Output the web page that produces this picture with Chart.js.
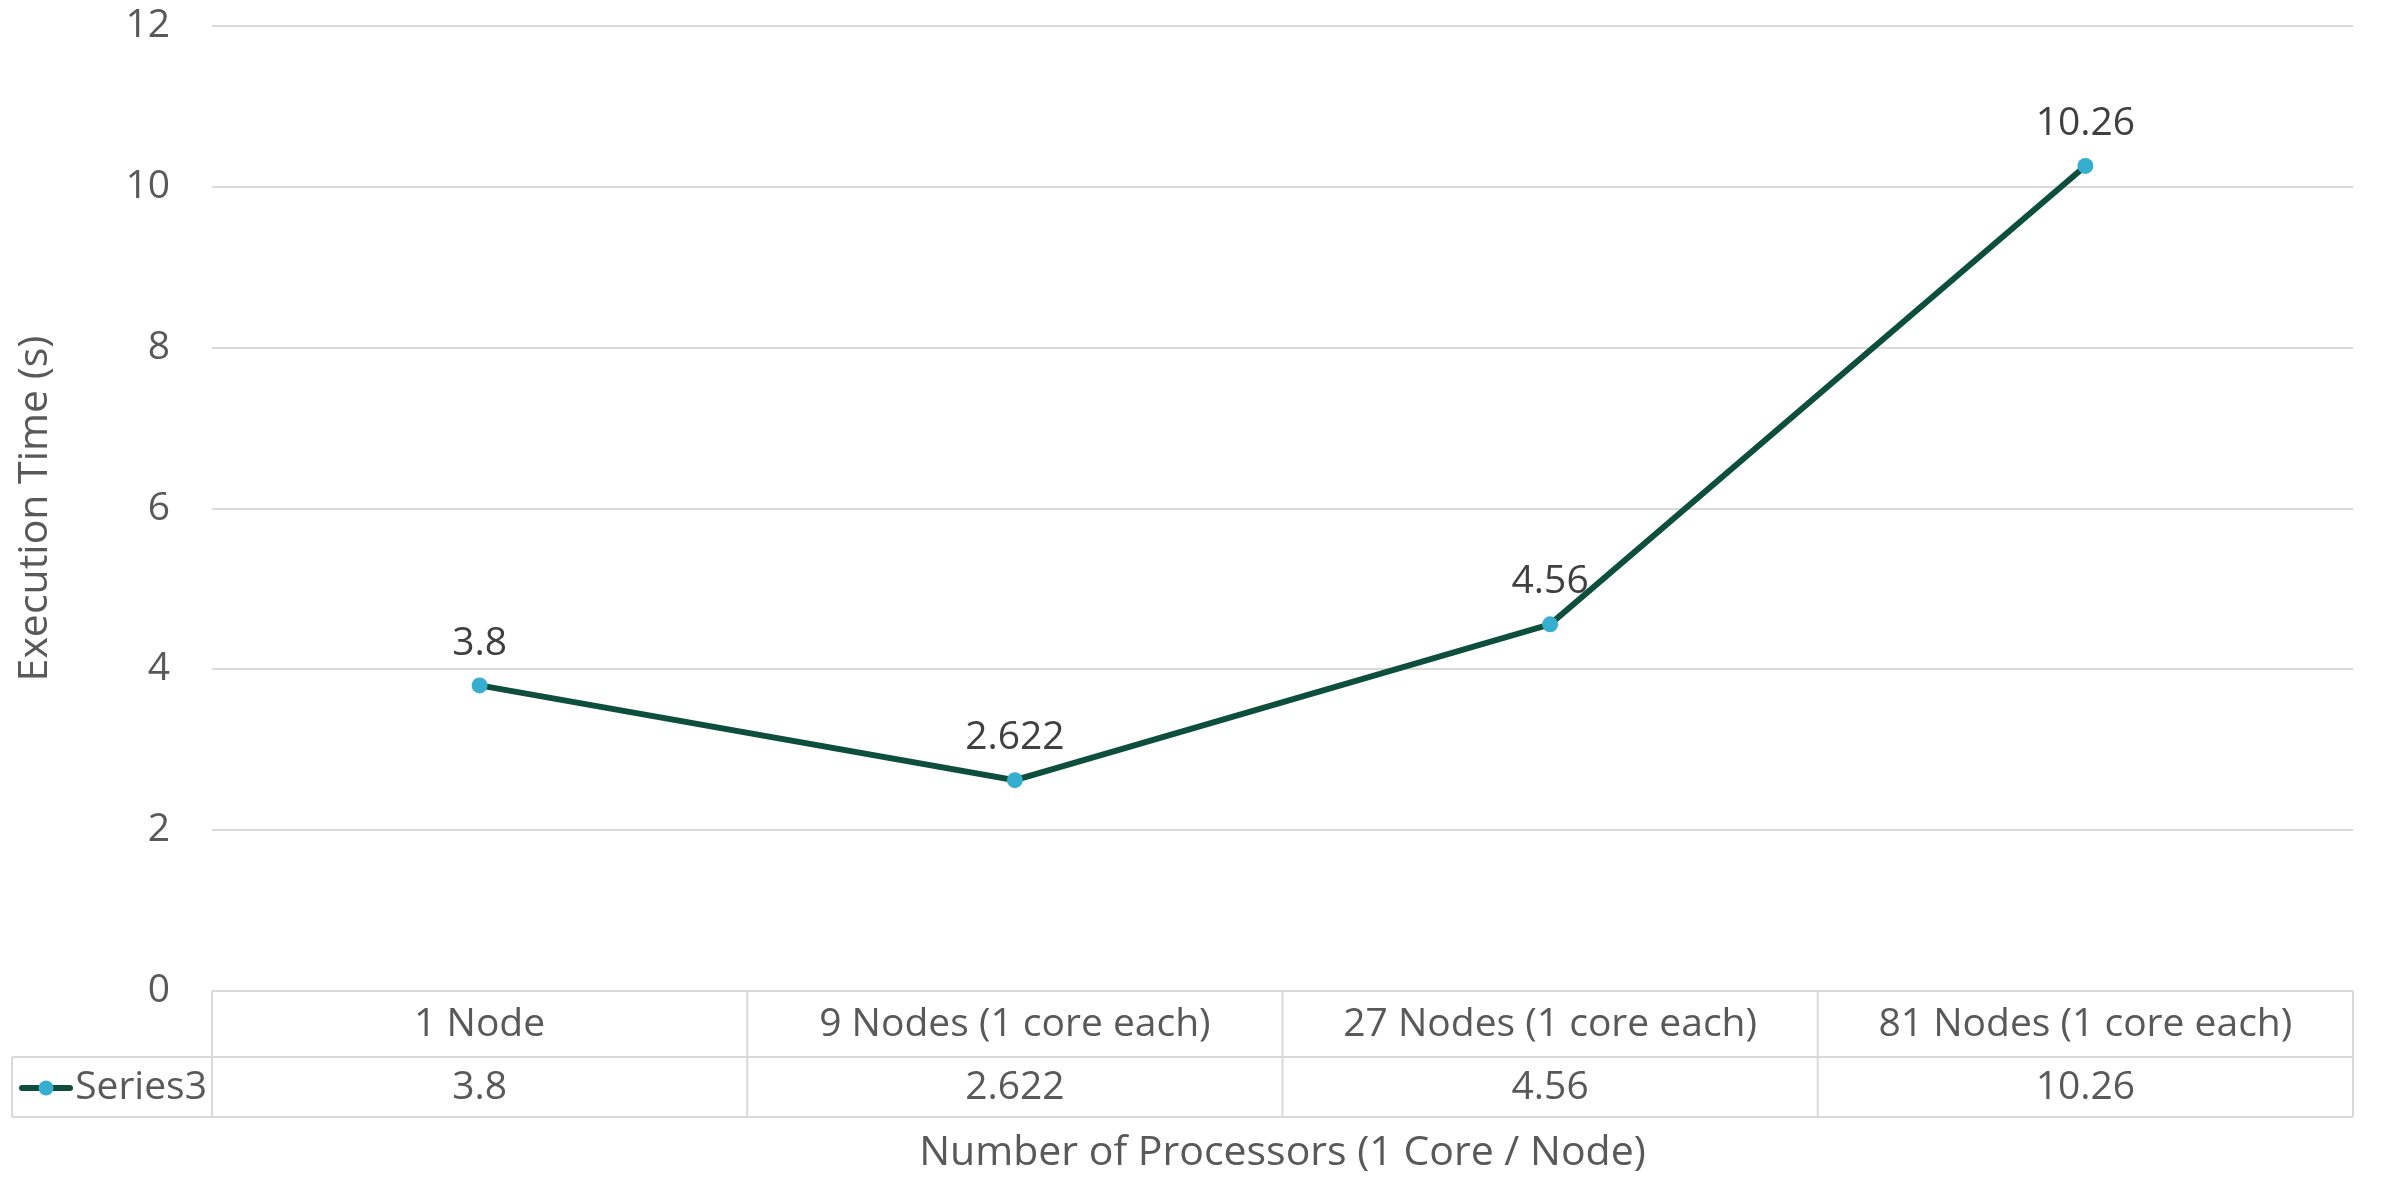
<!DOCTYPE html>
<html>
<head>
<meta charset="utf-8">
<script src="https://cdn.jsdelivr.net/npm/chart.js@4/dist/chart.umd.min.js"></script>
<style>
  html, body { margin: 0; padding: 0; background: #ffffff; }
  #wrap { width: 2384px; height: 1178px; position: relative; }
</style>
</head>
<body>
<div id="wrap"><canvas id="chart"></canvas></div>
<script>
// Execution time per cluster configuration
const categories = ['1 Node', '9 Nodes (1 core each)', '27 Nodes (1 core each)', '81 Nodes (1 core each)'];
const seriesName = 'Series3';
const execTimes = [3.8, 2.622, 4.56, 10.26];
const yTicks = [0, 2, 4, 6, 8, 10, 12];

const FONT = '"Open Sans", "Noto Sans", sans-serif';
const FONT_SIZE = 39;
const TITLE_SIZE = 41;
const TEXT_GREY = '#595959';
const LABEL_DARK = '#404040';
const GRID = '#d9d9d9';
const LINE_COLOR = '#0d4f3c';
const MARKER_COLOR = '#35aecf';

// Value labels above each point
const pointLabels = {
  id: 'pointLabels',
  afterDatasetsDraw(chart) {
    const ctx = chart.ctx;
    const meta = chart.getDatasetMeta(0);
    const values = chart.data.datasets[0].data;
    ctx.save();
    ctx.font = FONT_SIZE + 'px ' + FONT;
    ctx.fillStyle = LABEL_DARK;
    ctx.textAlign = 'center';
    ctx.textBaseline = 'middle';
    meta.data.forEach((pt, i) => {
      ctx.fillText(String(values[i]), pt.x, pt.y - 42);
    });
    ctx.restore();
  }
};

// Data table under the plot: category header row + series row with legend key
const dataTable = {
  id: 'dataTable',
  afterDraw(chart) {
    const ctx = chart.ctx;
    const area = chart.chartArea;
    const x = chart.scales.x;
    const top = area.bottom;
    const rowH = 66;
    const mid = top + rowH;
    const bot = mid + 60;
    const tableLeft = 12;
    const halfStep = (x.getPixelForValue(1) - x.getPixelForValue(0)) / 2;

    ctx.save();
    ctx.strokeStyle = GRID;
    ctx.lineWidth = 2;
    ctx.beginPath();
    // horizontal rules
    ctx.moveTo(area.left, top); ctx.lineTo(area.right, top);
    ctx.moveTo(tableLeft, mid); ctx.lineTo(area.right, mid);
    ctx.moveTo(tableLeft, bot); ctx.lineTo(area.right, bot);
    // vertical rules
    ctx.moveTo(tableLeft, mid); ctx.lineTo(tableLeft, bot);
    ctx.moveTo(area.left, top); ctx.lineTo(area.left, bot);
    categories.forEach((c, i) => {
      const xr = x.getPixelForValue(i) + halfStep;
      ctx.moveTo(xr, top); ctx.lineTo(xr, bot);
    });
    ctx.stroke();

    ctx.font = FONT_SIZE + 'px ' + FONT;
    ctx.fillStyle = TEXT_GREY;
    ctx.textAlign = 'center';
    ctx.textBaseline = 'middle';
    categories.forEach((c, i) => {
      const cx = x.getPixelForValue(i);
      ctx.fillText(c, cx, (top + mid) / 2 + 1);
      ctx.fillText(String(execTimes[i]), cx, (mid + bot) / 2 + 1);
    });

    // legend key
    const ky = (mid + bot) / 2 + 1;
    ctx.strokeStyle = LINE_COLOR;
    ctx.lineWidth = 6;
    ctx.lineCap = 'round';
    ctx.beginPath();
    ctx.moveTo(22, ky); ctx.lineTo(70, ky);
    ctx.stroke();
    ctx.fillStyle = MARKER_COLOR;
    ctx.beginPath();
    ctx.arc(46, ky, 7.5, 0, Math.PI * 2);
    ctx.fill();
    ctx.fillStyle = TEXT_GREY;
    ctx.textAlign = 'right';
    ctx.fillText(seriesName, area.left - 5, ky);
    ctx.restore();
  }
};

new Chart(document.getElementById('chart'), {
  type: 'line',
  data: {
    labels: categories,
    datasets: [{
      label: seriesName,
      data: execTimes,
      borderColor: LINE_COLOR,
      borderWidth: 6,
      pointBackgroundColor: MARKER_COLOR,
      pointBorderColor: MARKER_COLOR,
      pointRadius: 8,
      pointBorderWidth: 0,
      tension: 0
    }]
  },
  options: {
    responsive: true,
    maintainAspectRatio: false,
    animation: false,
    events: [],
    layout: { padding: { top: 26, right: 31, left: 0, bottom: 0 } },
    plugins: {
      legend: { display: false },
      tooltip: { enabled: false }
    },
    scales: {
      x: {
        type: 'category',
        offset: true,
        grid: { display: false },
        border: { display: false },
        ticks: { display: false },
        title: {
          display: true,
          text: 'Number of Processors (1 Core / Node)',
          color: TEXT_GREY,
          font: { family: FONT, size: TITLE_SIZE },
          padding: { top: 0, bottom: 0 }
        },
        afterFit(scale) { scale.height = 187; }
      },
      y: {
        min: 0,
        max: 12,
        afterBuildTicks(scale) { scale.ticks = yTicks.map(v => ({ value: v })); },
        grid: { color: GRID, lineWidth: 2, drawTicks: true, tickLength: 42, tickColor: 'rgba(0,0,0,0)' },
        border: { display: false },
        ticks: {
          color: TEXT_GREY,
          padding: 0,
          font: { family: FONT, size: FONT_SIZE }
        },
        title: {
          display: true,
          text: 'Execution Time (s)',
          color: TEXT_GREY,
          font: { family: FONT, size: TITLE_SIZE },
          padding: { top: 11, bottom: 0 }
        },
        afterFit(scale) { scale.width = 212; }
      }
    }
  },
  plugins: [pointLabels, dataTable]
});
</script>
</body>
</html>
